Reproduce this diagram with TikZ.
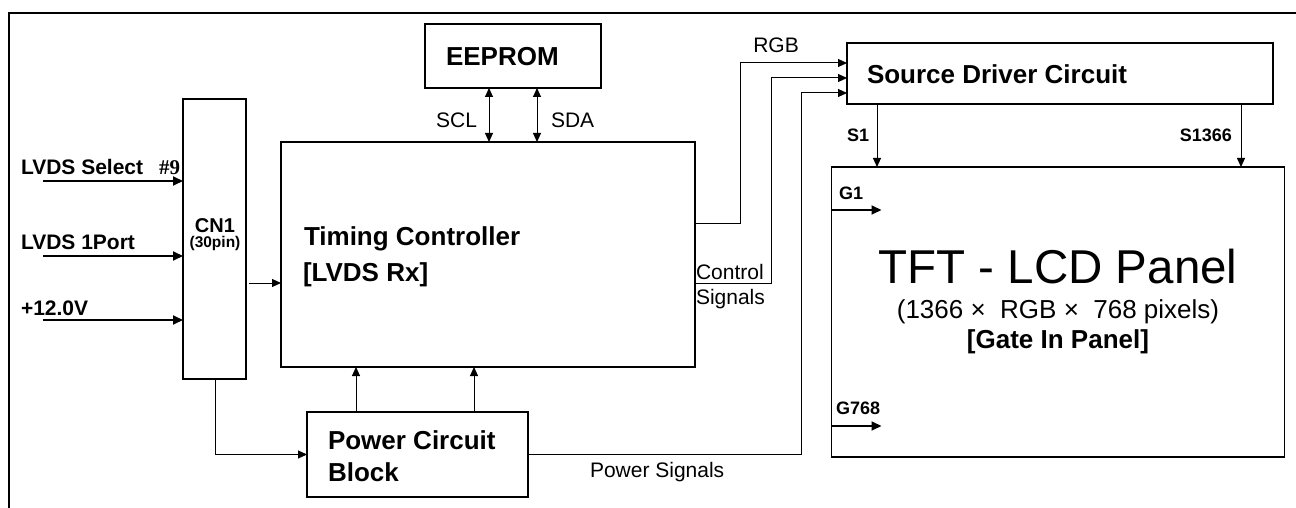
\documentclass[tikz,border=0pt]{standalone}
\usepackage{fontspec}
\setmainfont{Liberation Sans}
\newfontfamily\tmsfont{Liberation Serif}
\usetikzlibrary{arrows.meta}
\tikzset{
  box/.style={draw, line width=1.2pt, inner sep=0pt, outer sep=0pt, anchor=north west},
  arr/.style={-{Triangle[length=9pt,width=8pt]}, line width=1pt},
  bigarr/.style={-{Triangle[length=10pt,width=9pt]}, line width=1.8pt},
  dbl/.style={{Triangle[length=9pt,width=8pt]}-{Triangle[length=9pt,width=8pt]}, line width=1pt},
  txt/.style={inner sep=0pt, outer sep=0pt},
  bigb/.style={txt, font=\fontsize{26}{30}\selectfont\bfseries},
  midb/.style={txt, font=\fontsize{21}{25}\selectfont\bfseries},
  smb/.style={txt, font=\fontsize{18}{21}\selectfont\bfseries},
  reg/.style={txt, font=\fontsize{21}{25}\selectfont},
}
\begin{document}
\begin{tikzpicture}[x=1pt,y=-1pt]
\useasboundingbox (0,0) rectangle (1296,508);
% frame
\draw[line width=1.5pt] (9,508) -- (9,13) -- (1296,13);
% boxes
\node[box, minimum width=176pt, minimum height=64pt] (ee) at (425,24) {};
\node[box, minimum width=63pt, minimum height=280pt] (cn) at (183,99) {};
\node[box, minimum width=414pt, minimum height=225pt] (tc) at (281,142) {};
\node[box, minimum width=221pt, minimum height=85pt] (pw) at (307,412) {};
\node[box, minimum width=426pt, minimum height=61pt] (sd) at (847,43) {};
\node[box, minimum width=453pt, minimum height=290pt] (tft) at (831.5,167) {};
% texts
\node[bigb, anchor=base west] (teeprom) at (446,66) {EEPROM};
\node[reg, anchor=base east] (tscl) at (477,128) {SCL};
\node[reg, anchor=base west] (tsda) at (551,128) {SDA};
\node[reg, anchor=base] (trgb) at (776,53) {RGB};
\node[bigb, anchor=base west] (tsd) at (867,84) {Source Driver Circuit};
\node[smb, anchor=base west] (ts1) at (847,142) {S1};
\node[smb, anchor=base east] (ts1366) at (1232,142) {S1366};
\node[smb, anchor=base west] (tg1) at (839,200) {G1};
\node[smb, anchor=base west] (tg768) at (836,414) {G768};
\node[midb, anchor=base west] (tsel) at (21,175) {LVDS Select};
\node[txt, anchor=base east, font=\tmsfont\fontsize{21}{24}\selectfont\bfseries] (tnine) at (180,175) {\#9};
\node[midb, anchor=base west] (tport) at (21,249) {LVDS 1Port};
\node[midb, anchor=base west] (tv) at (21,315) {+12.0V};
\node[txt, anchor=base, font=\fontsize{20}{24}\selectfont\bfseries] (tcn) at (215,232) {CN1};
\node[txt, anchor=base, font=\fontsize{15.5}{18}\selectfont\bfseries] (tpin) at (215,247) {(30pin)};
\node[bigb, anchor=base west] (ttc1) at (304,245) {Timing Controller};
\node[bigb, anchor=base west] (ttc2) at (303,281) {[LVDS Rx]};
\node[reg, anchor=base west] (tctl) at (696,279) {Control};
\node[reg, anchor=base west] (tsig) at (696,304) {Signals};
\node[bigb, anchor=base west] (tpw1) at (328,449) {Power Circuit};
\node[bigb, anchor=base west] (tpw2) at (328,481) {Block};
\node[reg, anchor=base west] (tps) at (590,477) {Power Signals};
\node[txt, anchor=base, font=\fontsize{47.5}{54}\selectfont] (ttft) at (1058,283) {TFT - LCD Panel};
\node[txt, anchor=base, font=\fontsize{26}{30}\selectfont] (tres) at (1058,318) {(1366 ×\ \ RGB ×\ \ 768 pixels)};
\node[bigb, anchor=base] (tgip) at (1058,348) {[Gate In Panel]};
% coordinates
\coordinate (sclx) at (489,0);
\coordinate (sdax) at (537,0);
\coordinate (in1) at (43,181);
\coordinate (in2) at (43,256);
\coordinate (in3) at (43,320);
\coordinate (c1) at (249,283);
\coordinate (cx) at (215,0);
\coordinate (px1) at (356,0);
\coordinate (px2) at (474,0);
\coordinate (r0) at (695,223);
\coordinate (v1) at (740,63);
\coordinate (c0) at (695,283);
\coordinate (v2) at (771,78);
\coordinate (v3) at (801,93);
\coordinate (s1x) at (877,0);
\coordinate (s2x) at (1241,0);
\coordinate (g1) at (831.5,210);
\coordinate (g2) at (831.5,426);
% connectors
\draw[dbl] (ee.south -| sclx) -- (tc.north -| sclx);
\draw[dbl] (ee.south -| sdax) -- (tc.north -| sdax);
\draw[bigarr] (in1) -- (in1 -| cn.west);
\draw[bigarr] (in2) -- (in2 -| cn.west);
\draw[bigarr] (in3) -- (in3 -| cn.west);
\draw[arr] (c1) -- (c1 -| tc.west);
\draw[arr] (cn.south -| cx) |- (pw.west);
\draw[arr] (pw.north -| px1) -- (tc.south -| px1);
\draw[arr] (pw.north -| px2) -- (tc.south -| px2);
\draw[line width=1pt] (r0) -| (v1);
\draw[arr] (v1) -- (v1 -| sd.west);
\draw[line width=1pt] (c0) -| (v2);
\draw[arr] (v2) -- (v2 -| sd.west);
\draw[line width=1pt] (pw.east) -| (v3);
\draw[arr] (v3) -- (v3 -| sd.west);
\draw[arr] (sd.south -| s1x) -- (tft.north -| s1x);
\draw[arr] (sd.south -| s2x) -- (tft.north -| s2x);
\draw[bigarr] (g1) -- ++(50,0) coordinate (g1e);
\draw[bigarr] (g2) -- ++(50,0) coordinate (g2e);
\end{tikzpicture}
\end{document}
